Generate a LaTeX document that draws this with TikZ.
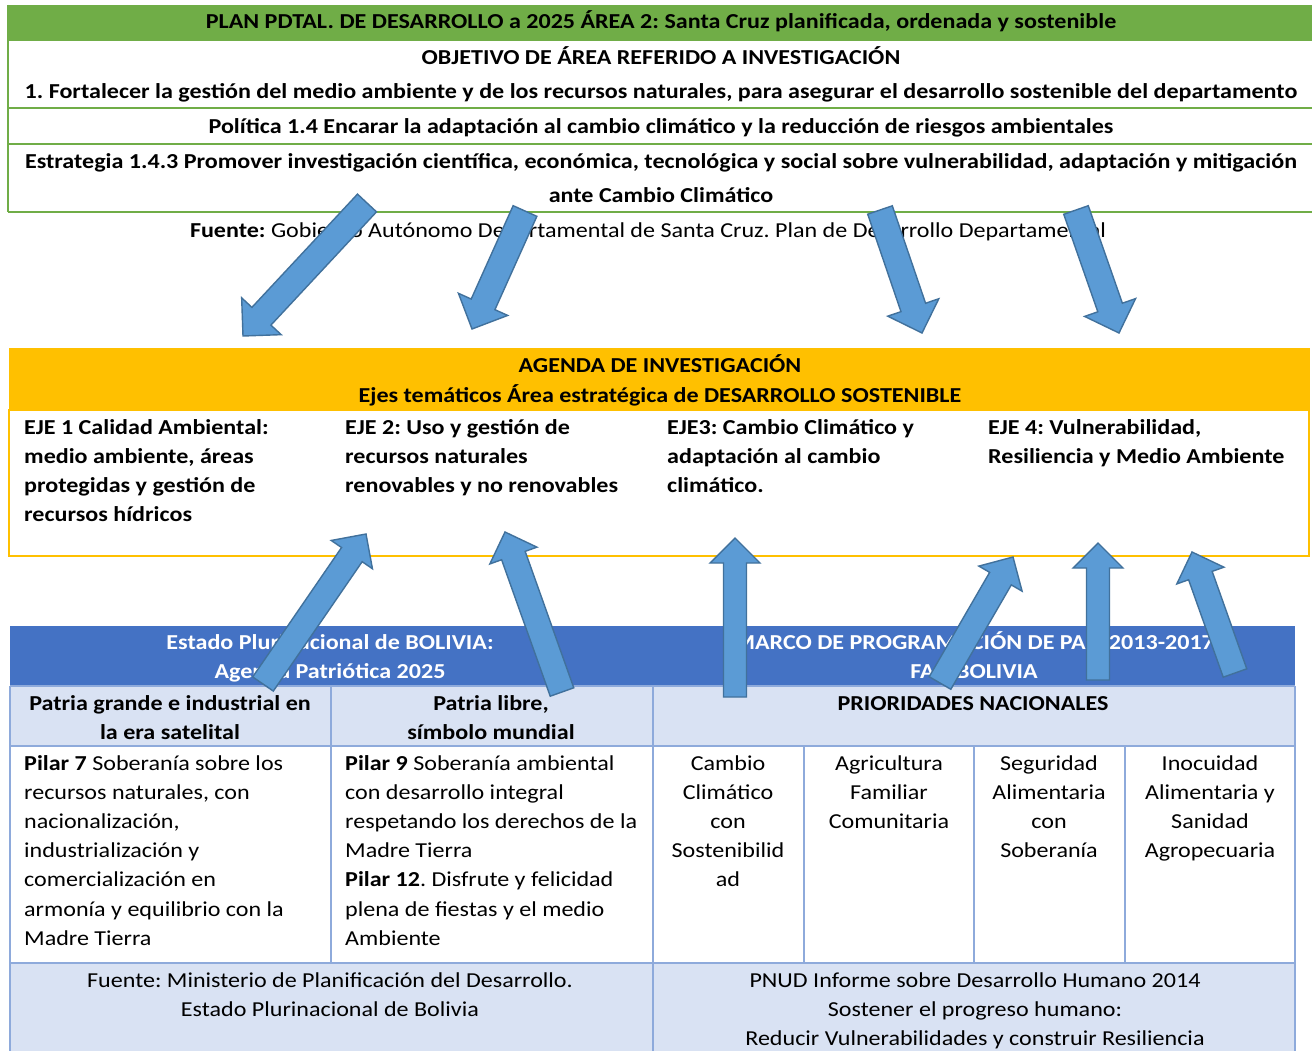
\documentclass[tikz,border=0pt]{standalone}
\usepackage{fontspec}
\setmainfont{Carlito}[FakeStretch=1.13]
\usetikzlibrary{calc}
\frenchspacing
\definecolor{grn}{HTML}{70AD47}
\definecolor{org}{HTML}{FFC000}
\definecolor{hdrblue}{HTML}{4472C4}
\definecolor{lblue}{HTML}{D9E2F3}
\definecolor{bord}{HTML}{8EAADB}
\definecolor{arfill}{HTML}{5B9BD5}
\definecolor{arline}{HTML}{41719C}
\newcommand\ml[2]{\begin{tabular}[t]{@{}#1@{}}#2\end{tabular}}
\newcommand\blockarrow[5]{%
  \coordinate (bh) at ($(#2)!#5!(#1)$);
  \draw[barrowsty] ($(#1)!#3!90:(#2)$) -- ($(bh)!#3!90:(#2)$) -- ($(bh)!#4!90:(#2)$) -- (#2)
    -- ($(bh)!#4!-90:(#2)$) -- ($(bh)!#3!-90:(#2)$) -- ($(#1)!#3!-90:(#2)$) -- cycle;}
\begin{document}
\begin{tikzpicture}[x=1pt,y=-1pt,
  every node/.style={inner sep=0pt,font=\fontsize{21.3}{29.2}\selectfont\frenchspacing},
  rg/.style={anchor=base},
  bf/.style={anchor=base,font=\fontsize{21.3}{29.2}\selectfont\frenchspacing\bfseries},
  wbf/.style={bf,text=white},
  gline/.style={draw=grn,line width=1.6pt},
  bline/.style={draw=bord,line width=1.6pt},
  barrowsty/.style={draw=arline,fill=arfill,line width=1.4pt,line join=miter}]
\useasboundingbox[fill=white] (0,0) rectangle (1312,1051);

% ---------- top table ----------
\fill[grn] (8,5) rectangle (1312,41);
\draw[gline] (8,5) -- (8,212);
\draw[gline] (8,108) -- (1312,108);
\draw[gline] (8,144) -- (1312,144);
\draw[gline] (8,212) -- (1312,212);
\node[bf] (plan) at (661,29) {PLAN PDTAL. DE DESARROLLO a 2025 ÁREA 2: Santa Cruz planificada, ordenada y sostenible};
\node[bf] (obj) at (661,65) {OBJETIVO DE ÁREA REFERIDO A INVESTIGACIÓN};
\node[bf] (fort) at (661,99) {1. Fortalecer la gestión del medio ambiente y de los recursos naturales, para asegurar el desarrollo sostenible del departamento};
\node[bf] (pol) at (661,134) {Política 1.4 Encarar la adaptación al cambio climático y la reducción de riesgos ambientales};
\node[bf] (estr) at (661,169) {Estrategia 1.4.3 Promover investigación científica, económica, tecnológica y social sobre vulnerabilidad, adaptación y mitigación};
\node[bf] (ante) at (661,203) {ante Cambio Climático};
\node[rg] (fuente1) at (648,237) {\textbf{Fuente:} Gobierno Autónomo Departamental de Santa Cruz. Plan de Desarrollo Departamental};

% ---------- agenda ----------
\fill[org] (9,348) rectangle (1310,410);
\draw[draw=org,line width=1.8pt] (9,410) rectangle (1309,556);
\node[bf] (agenda) at (660,372) {AGENDA DE INVESTIGACIÓN};
\node[bf] (ejes) at (660,402) {Ejes temáticos Área estratégica de DESARROLLO SOSTENIBLE};
\node[bf,anchor=base west] (eje1) at (24,434) {\ml{l}{EJE 1 Calidad Ambiental:\\medio ambiente, áreas\\protegidas y gestión de\\recursos hídricos}};
\node[bf,anchor=base west] (eje2) at (345,434) {\ml{l}{EJE 2: Uso y gestión de\\recursos naturales\\renovables y no renovables}};
\node[bf,anchor=base west] (eje3) at (667,434) {\ml{l}{EJE3: Cambio Climático y\\adaptación al cambio\\climático.}};
\node[bf,anchor=base west] (eje4) at (988,434) {\ml{l}{EJE 4: Vulnerabilidad,\\Resiliencia y Medio Ambiente}};

% ---------- bottom table ----------
\fill[hdrblue] (10,626) rectangle (1295,686);
\fill[lblue] (10,686) rectangle (1295,746);
\fill[lblue] (10,963) rectangle (1295,1051);
\draw[bline] (10,686) -- (1295,686);
\draw[bline] (10,746) -- (1295,746);
\draw[bline] (10,963) -- (1295,963);
\draw[bline] (10,686) -- (10,1051);
\draw[bline] (331,686) -- (331,963);
\draw[bline] (653,686) -- (653,1051);
\draw[bline] (804,746) -- (804,963);
\draw[bline] (974,746) -- (974,963);
\draw[bline] (1125,746) -- (1125,963);
\draw[bline] (1295,686) -- (1295,1051);

\node[wbf] (bol) at (330,649) {\ml{c}{Estado Plurinacional de BOLIVIA:\\Agenda Patriótica 2025}};
\node[wbf] (fao) at (974,649) {\ml{c}{MARCO DE PROGRAMACIÓN DE PAÍS 2013-2017\\FAO BOLIVIA}};
\node[bf] (patg) at (170,710) {\ml{c}{Patria grande e industrial en\\la era satelital}};
\node[bf] (patl) at (491,710) {\ml{c}{Patria libre,\\símbolo mundial}};
\node[bf] (prio) at (973,710) {PRIORIDADES NACIONALES};
\node[rg,anchor=base west] (p7) at (24,770) {\ml{l}{\textbf{Pilar 7} Soberanía sobre los\\recursos naturales, con\\nacionalización,\\industrialización y\\comercialización en\\armonía y equilibrio con la\\Madre Tierra}};
\node[rg,anchor=base west] (p9) at (345,770) {\ml{l}{\textbf{Pilar 9} Soberanía ambiental\\con desarrollo integral\\respetando los derechos de la\\Madre Tierra\\\textbf{Pilar 12}. Disfrute y felicidad\\plena de fiestas y el medio\\Ambiente}};
\node[rg] (c1) at (728,770) {\ml{c}{Cambio\\Climático\\con\\Sostenibilid\\ad}};
\node[rg] (c2) at (889,770) {\ml{c}{Agricultura\\Familiar\\Comunitaria}};
\node[rg] (c3) at (1049,770) {\ml{c}{Seguridad\\Alimentaria\\con\\Soberanía}};
\node[rg] (c4) at (1210,770) {\ml{c}{Inocuidad\\Alimentaria y\\Sanidad\\Agropecuaria}};
\node[rg] (f2) at (330,987) {\ml{c}{Fuente: Ministerio de Planificación del Desarrollo.\\Estado Plurinacional de Bolivia}};
\node[rg] (f3) at (975,987) {\ml{c}{PNUD Informe sobre Desarrollo Humano 2014\\Sostener el progreso humano:\\Reducir Vulnerabilidades y construir Resiliencia}};

% ---------- block arrows ----------
\coordinate (a1s) at (367,203);  \coordinate (a1e) at (243,336);
\coordinate (a2s) at (525,211);  \coordinate (a2e) at (472,329);
\coordinate (a3s) at (880,210);  \coordinate (a3e) at (922,333);
\coordinate (a4s) at (1076,210); \coordinate (a4e) at (1119,333);
\coordinate (a5s) at (263,684);  \coordinate (a5e) at (366,534);
\coordinate (a6s) at (562,692);  \coordinate (a6e) at (505,532);
\coordinate (a7s) at (735,697);  \coordinate (a7e) at (735,538);
\coordinate (a8s) at (940,683);  \coordinate (a8e) at (1013,557);
\coordinate (a9s) at (1098,680); \coordinate (a9e) at (1098,543);
\coordinate (a10s) at (1235,673); \coordinate (a10e) at (1192,552);
\blockarrow{a1s}{a1e}{13pt}{27pt}{27pt}
\blockarrow{a2s}{a2e}{13pt}{27pt}{27pt}
\blockarrow{a3s}{a3e}{13pt}{27pt}{27pt}
\blockarrow{a4s}{a4e}{13pt}{27pt}{27pt}
\blockarrow{a5s}{a5e}{12.5pt}{25pt}{25pt}
\blockarrow{a6s}{a6e}{12.5pt}{25pt}{25pt}
\blockarrow{a7s}{a7e}{11.5pt}{25pt}{25pt}
\blockarrow{a8s}{a8e}{12.5pt}{25pt}{25pt}
\blockarrow{a9s}{a9e}{11.5pt}{25pt}{25pt}
\blockarrow{a10s}{a10e}{12.5pt}{25pt}{25pt}
\end{tikzpicture}
\end{document}
